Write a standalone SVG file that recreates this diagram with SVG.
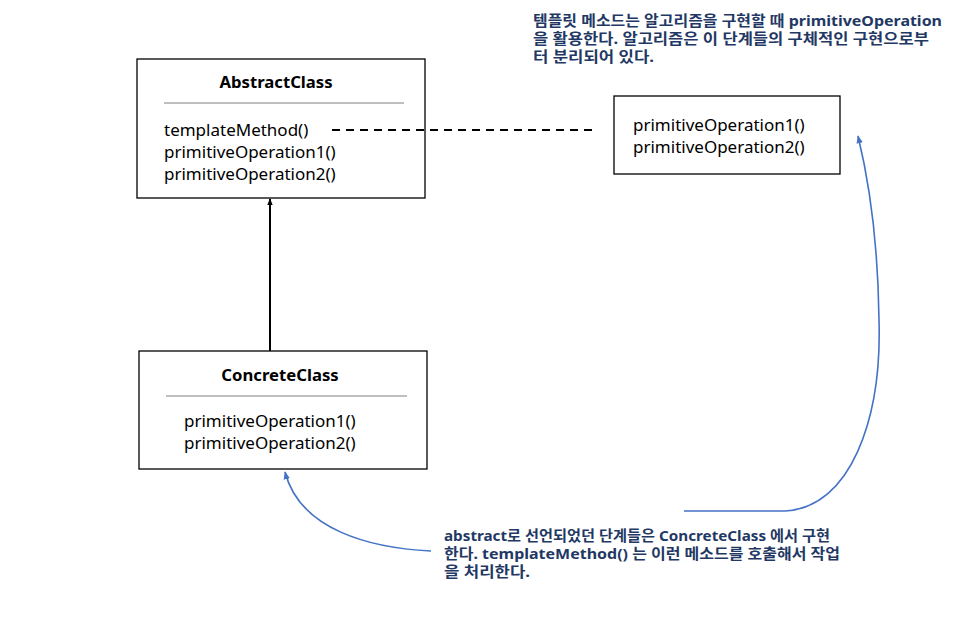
<svg xmlns="http://www.w3.org/2000/svg" width="963" height="632" viewBox="0 0 963 632">
<style>
.box{fill:#fff;stroke:#000;stroke-width:1.3}
.sep{stroke:#808080;stroke-width:1}
.title{font-family:"Noto Sans","Open Sans","Noto Sans CJK KR",sans-serif;font-size:16.7px;font-weight:bold;fill:#000}
.m{font-family:"Noto Sans","Open Sans","Noto Sans CJK KR",sans-serif;font-size:17px;fill:#000}
.note{font-family:"Noto Sans","Noto Sans CJK KR",sans-serif;font-size:14.5px;font-weight:bold;fill:#1F3864}
.blue{fill:none;stroke:#4472C4;stroke-width:1.6}
</style>
<defs>
<marker id="ab" viewBox="0 0 10 10" refX="9" refY="5" markerWidth="7" markerHeight="7" orient="auto" markerUnits="userSpaceOnUse"><path d="M0,1 L10,5 L0,9 z" fill="#000"/></marker>
<marker id="ablue" viewBox="0 0 10 10" refX="9" refY="5" markerWidth="8" markerHeight="8" orient="auto" markerUnits="userSpaceOnUse"><path d="M0,1 L10,5 L0,9 z" fill="#4472C4"/></marker>
</defs>
<g id="abstract-class">
<rect class="box" x="137" y="59" width="288" height="139"/>
<text class="title" x="276" y="88" text-anchor="middle">AbstractClass</text>
<line class="sep" x1="164" y1="103" x2="404" y2="103"/>
<text class="m" x="164" y="136">templateMethod()</text>
<text class="m" x="164" y="158">primitiveOperation1()</text>
<text class="m" x="164" y="180">primitiveOperation2()</text>
</g>
<g id="concrete-class">
<rect class="box" x="139" y="351" width="288" height="118"/>
<text class="title" x="280" y="381" text-anchor="middle">ConcreteClass</text>
<line class="sep" x1="166" y1="396" x2="407" y2="396"/>
<text class="m" x="184" y="427">primitiveOperation1()</text>
<text class="m" x="184" y="449">primitiveOperation2()</text>
</g>
<g id="primitive-ops">
<rect class="box" x="614" y="96" width="226" height="78"/>
<text class="m" x="633" y="131">primitiveOperation1()</text>
<text class="m" x="633" y="153">primitiveOperation2()</text>
</g>
<g id="connectors">
<line x1="270" y1="351" x2="270" y2="199" stroke="#000" stroke-width="2" marker-end="url(#ab)"/>
<line x1="332" y1="130" x2="594" y2="130" stroke="#000" stroke-width="2" stroke-dasharray="8,6"/>
<path class="blue" d="M684,511 L785,511 C850,508 882,420 879,320 C878,240 870,185 858,136" marker-end="url(#ablue)"/>
<path class="blue" d="M431,551 C370,548 300,530 285,472" marker-end="url(#ablue)"/>
</g>
<g id="note-top">
<text class="note" x="533" y="26" textLength="409" lengthAdjust="spacingAndGlyphs">템플릿 메소드는 알고리즘을 구현할 때 primitiveOperation</text>
<text class="note" x="533" y="44" textLength="396" lengthAdjust="spacingAndGlyphs">을 활용한다. 알고리즘은 이 단계들의 구체적인 구현으로부</text>
<text class="note" x="533" y="62" textLength="121" lengthAdjust="spacingAndGlyphs">터 분리되어 있다.</text>
</g>
<g id="note-bottom">
<text class="note" x="444" y="541" textLength="386" lengthAdjust="spacingAndGlyphs">abstract로 선언되었던 단계들은 ConcreteClass 에서 구현</text>
<text class="note" x="444" y="559" textLength="396" lengthAdjust="spacingAndGlyphs">한다. templateMethod() 는 이런 메소드를 호출해서 작업</text>
<text class="note" x="444" y="577" textLength="86" lengthAdjust="spacingAndGlyphs">을 처리한다.</text>
</g>
</svg>
